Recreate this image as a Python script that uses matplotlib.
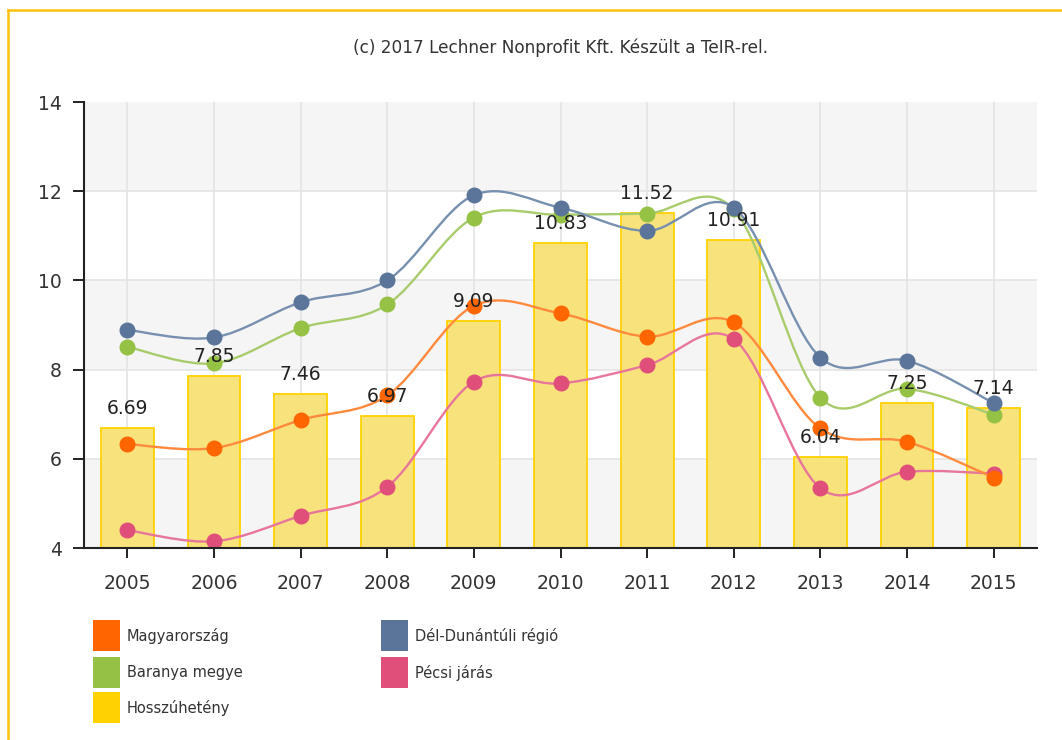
import matplotlib
matplotlib.use("Agg")
import matplotlib.pyplot as plt
import numpy as np
from matplotlib.path import Path
from matplotlib.patches import PathPatch, Rectangle
from matplotlib.lines import Line2D

years = ["2005", "2006", "2007", "2008", "2009", "2010", "2011", "2012", "2013", "2014", "2015"]
hosszuheteny = [6.69, 7.85, 7.46, 6.97, 9.09, 10.83, 11.52, 10.91, 6.04, 7.25, 7.14]
magyarorszag = [6.33, 6.24, 6.87, 7.42, 9.43, 9.26, 8.74, 9.06, 6.68, 6.38, 5.58]
del_dunantul = [8.89, 8.72, 9.51, 10.0, 11.91, 11.63, 11.11, 11.63, 8.27, 8.2, 7.25]
baranya = [8.51, 8.14, 8.93, 9.46, 11.41, 11.47, 11.5, 11.59, 7.37, 7.57, 6.99]
pecsi = [4.4, 4.15, 4.72, 5.37, 7.73, 7.69, 8.1, 8.68, 5.34, 5.71, 5.67]

series_names = ["Magyarország", "Dél-Dunántúli régió", "Baranya megye", "Pécsi járás", "Hosszúhetény"]

C_OR = "#FF6600"
C_BL = "#5A7599"
C_GR = "#95C145"
C_PK = "#DF4F7A"
C_YE = "#FFD200"

W, H = 1062, 740
fig = plt.figure(figsize=(W / 100, H / 100), dpi=100)
fig.patch.set_facecolor("white")

def fx(px):
    return px / W

def fy(py):
    return 1 - py / H

L, R, T, B = 84, 1037, 102, 548
ax = fig.add_axes([fx(L), fy(B), fx(R) - fx(L), fy(T) - fy(B)])
x = np.arange(len(years))
ax.set_xlim(-0.5, len(years) - 0.5)
ax.set_ylim(4, 14)

# alternating bands
for lo in (4, 8, 12):
    ax.axhspan(lo, lo + 2, color="#F5F5F5", zorder=0, lw=0)
for yv in (6, 8, 10, 12):
    ax.axhline(yv, color="#E4E4E4", lw=1.2, zorder=0.5)
for xv in x:
    ax.axvline(xv, color="#E4E4E4", lw=1.2, zorder=0.5)

ax.bar(x, hosszuheteny, width=0.61, facecolor="#F8E27C", edgecolor=C_YE, lw=1.3, zorder=1)

def catmull_path(xs, ys):
    n = len(xs)
    verts = [(xs[0], ys[0])]
    codes = [Path.MOVETO]
    for i in range(n - 1):
        y0 = ys[i - 1] if i > 0 else ys[i]
        y1, y2 = ys[i], ys[i + 1]
        y3 = ys[i + 2] if i + 2 < n else ys[i + 1]
        x0 = xs[i - 1] if i > 0 else xs[i]
        x1, x2 = xs[i], xs[i + 1]
        x3 = xs[i + 2] if i + 2 < n else xs[i + 1]
        c1 = (x1 + (x2 - x0) / 6, y1 + (y2 - y0) / 6)
        c2 = (x2 - (x3 - x1) / 6, y2 - (y3 - y1) / 6)
        verts += [c1, c2, (x2, y2)]
        codes += [Path.CURVE4] * 3
    return Path(verts, codes)

line_series = [
    (pecsi, C_PK, "#E8769A"),
    (magyarorszag, C_OR, "#FF8A3D"),
    (baranya, C_GR, "#A8CC6C"),
    (del_dunantul, C_BL, "#7890B0"),
]
z = 3
for vals, c, lc in line_series:
    p = catmull_path(list(x.astype(float)), vals)
    ax.add_patch(PathPatch(p, facecolor="none", edgecolor=lc, lw=1.7, zorder=z))
    ax.plot(x, vals, ls="none", marker="o", ms=10.5, mfc=c, mec=c, zorder=z + 0.5)
    z += 1

for xi, v in zip(x, hosszuheteny):
    ax.annotate(f"{v:.2f}", (xi, v), xytext=(0, 10), textcoords="offset pixels",
                ha="center", va="bottom", fontsize=13.5, color="#222222", zorder=10)

for s in ("top", "right"):
    ax.spines[s].set_visible(False)
for s in ("left", "bottom"):
    ax.spines[s].set_color("#222222")
    ax.spines[s].set_linewidth(1.5)
    ax.spines[s].set_zorder(12)
ax.set_xticks(x)
ax.set_xticklabels(years)
ax.set_yticks([4, 6, 8, 10, 12, 14])
ax.tick_params(axis="x", length=7, width=1.4, color="#222222", pad=12, labelsize=13.5, labelcolor="#333333")
ax.tick_params(axis="y", length=8, width=1.4, color="#222222", pad=8, labelsize=13.5, labelcolor="#333333")

fig.text(fx(561), fy(48), "(c) 2017 Lechner Nonprofit Kft. Készült a TeIR-rel.",
         ha="center", va="center", fontsize=12.2, color="#333333")

# legend
items = [
    (93, 636, C_OR, "Magyarország"),
    (93, 673, C_GR, "Baranya megye"),
    (93, 708, C_YE, "Hosszúhetény"),
    (381, 636, C_BL, "Dél-Dunántúli régió"),
    (381, 673, C_PK, "Pécsi járás"),
]
for px, py, c, lab in items:
    fig.add_artist(Rectangle((fx(px), fy(py + 15)), fx(27), 31 / H, transform=fig.transFigure,
                             facecolor=c, edgecolor="none"))
    fig.text(fx(px + 34), fy(py), lab, ha="left", va="center", fontsize=10.5, color="#333333")

# border
gold = "#FFC20E"
fig.add_artist(Line2D([fx(8), 1], [fy(10), fy(10)], transform=fig.transFigure, color=gold, lw=1.8))
fig.add_artist(Line2D([fx(8), fx(8)], [fy(10), 0], transform=fig.transFigure, color=gold, lw=1.8))

fig.savefig("out.png", dpi=100, facecolor="white")
